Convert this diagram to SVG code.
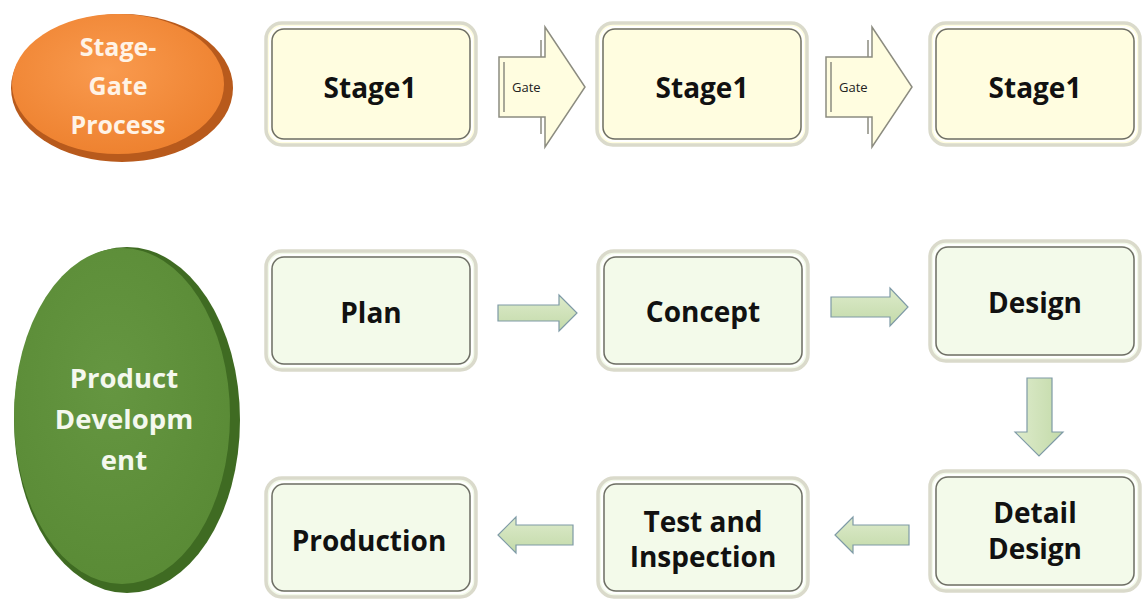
<svg xmlns="http://www.w3.org/2000/svg" width="1143" height="600" viewBox="0 0 1143 600">
<defs>
<radialGradient id="og" cx="0.45" cy="0.4" r="0.6"><stop offset="0" stop-color="#F99A4E"/><stop offset="1" stop-color="#EE8230"/></radialGradient>
<radialGradient id="gg" cx="0.45" cy="0.4" r="0.6"><stop offset="0" stop-color="#659641"/><stop offset="1" stop-color="#5A8B36"/></radialGradient>
<linearGradient id="ag" x1="0" y1="0" x2="0" y2="1"><stop offset="0" stop-color="#DDEBCB"/><stop offset="1" stop-color="#C3DAA9"/></linearGradient>
<linearGradient id="agv" x1="0" y1="0" x2="1" y2="0"><stop offset="0" stop-color="#DDEBCB"/><stop offset="1" stop-color="#C3DAA9"/></linearGradient>
</defs>
<style>
.bo{stroke:#DADACB;stroke-width:3.5}
.bi{fill:none;stroke:#6E6E66;stroke-width:1.5}
.bw{fill:none;stroke:#FFFFFF;stroke-width:2}
.sf{fill:#FFFDE0}
.pf{fill:#F3FAEA}
.t{font-family:"Open Sans","Noto Sans","DejaVu Sans",sans-serif;font-weight:bold;fill:#111;text-anchor:middle;font-size:28px}
.et{font-family:"Open Sans","Noto Sans","DejaVu Sans",sans-serif;font-weight:bold;fill:#FFF3E6;text-anchor:middle;font-size:25px}
.eg{font-size:27.5px;fill:#F4F8EE}
.gt{font-family:"Open Sans","Noto Sans","DejaVu Sans",sans-serif;fill:#222;font-size:13px}
.ga{fill:#FFFDE0;stroke:#8C8C80;stroke-width:1.5}
.ar{stroke:#7E9AA6;stroke-width:1.2}
</style>
<g id="stage-gate-ellipse">
<ellipse cx="122" cy="88" rx="111" ry="74" fill="#B85A1C"/>
<ellipse cx="118" cy="84" rx="106" ry="70" fill="url(#og)"/>
<text class="et" x="118" y="56">Stage-</text>
<text class="et" x="118" y="95">Gate</text>
<text class="et" x="118" y="134">Process</text>
</g>
<g id="product-dev-ellipse">
<ellipse cx="127" cy="420" rx="113" ry="173" fill="#3F6B22"/>
<ellipse cx="122" cy="416" rx="108" ry="168" fill="url(#gg)"/>
<text class="et eg" x="124" y="388">Product</text>
<text class="et eg" x="124" y="429">Developm</text>
<text class="et eg" x="124" y="470">ent</text>
</g>
<g id="stage1a">
<rect class="bo sf" x="266" y="23" width="210" height="122" rx="16"/>
<rect class="bw" x="270" y="27" width="202" height="114" rx="13"/>
<rect class="bi" x="272" y="29" width="198" height="110" rx="12"/>
<text class="t" x="370" y="98" font-size="29.5">Stage1</text>
</g>
<g id="stage1b">
<rect class="bo sf" x="597" y="23" width="210" height="122" rx="16"/>
<rect class="bw" x="601" y="27" width="202" height="114" rx="13"/>
<rect class="bi" x="603" y="29" width="198" height="110" rx="12"/>
<text class="t" x="702" y="98" font-size="29.5">Stage1</text>
</g>
<g id="stage1c">
<rect class="bo sf" x="930" y="23" width="210" height="122" rx="16"/>
<rect class="bw" x="934" y="27" width="202" height="114" rx="13"/>
<rect class="bi" x="936" y="29" width="198" height="110" rx="12"/>
<text class="t" x="1035" y="98" font-size="29.5">Stage1</text>
</g>
<g id="plan">
<rect class="bo pf" x="266" y="251" width="210" height="119" rx="16"/>
<rect class="bw" x="270" y="255" width="202" height="111" rx="13"/>
<rect class="bi" x="272" y="257" width="198" height="107" rx="12"/>
<text class="t" x="371" y="323">Plan</text>
</g>
<g id="concept">
<rect class="bo pf" x="598" y="251" width="210" height="119" rx="16"/>
<rect class="bw" x="602" y="255" width="202" height="111" rx="13"/>
<rect class="bi" x="604" y="257" width="198" height="107" rx="12"/>
<text class="t" x="703" y="322">Concept</text>
</g>
<g id="design">
<rect class="bo pf" x="930" y="241" width="210" height="120" rx="16"/>
<rect class="bw" x="934" y="245" width="202" height="112" rx="13"/>
<rect class="bi" x="936" y="247" width="198" height="108" rx="12"/>
<text class="t" x="1035" y="313">Design</text>
</g>
<g id="detail-design">
<rect class="bo pf" x="930" y="471" width="210" height="120" rx="16"/>
<rect class="bw" x="934" y="475" width="202" height="112" rx="13"/>
<rect class="bi" x="936" y="477" width="198" height="108" rx="12"/>
<text class="t" x="1035" y="523">Detail</text>
<text class="t" x="1035" y="559">Design</text>
</g>
<g id="test-inspection">
<rect class="bo pf" x="598" y="478" width="210" height="119" rx="16"/>
<rect class="bw" x="602" y="482" width="202" height="111" rx="13"/>
<rect class="bi" x="604" y="484" width="198" height="107" rx="12"/>
<text class="t" x="703" y="532">Test and</text>
<text class="t" x="703" y="567">Inspection</text>
</g>
<g id="production">
<rect class="bo pf" x="266" y="478" width="210" height="119" rx="16"/>
<rect class="bw" x="270" y="482" width="202" height="111" rx="13"/>
<rect class="bi" x="272" y="484" width="198" height="107" rx="12"/>
<text class="t" x="369" y="551">Production</text>
</g>
<g id="connectors">
<g id="gate1">
<path class="ga" d="M499,57 H545 V27 L585,87 L545,147 V117 H499 Z"/>
<path d="M504,62 V112 M541,57 V40 M541,117 V134" fill="none" stroke="#8C8C80" stroke-width="1.5"/>
<text class="gt" x="512" y="92">Gate</text>
</g>
<g id="gate2">
<path class="ga" d="M826,57 H872 V27 L912,87 L872,147 V117 H826 Z"/>
<path d="M831,62 V112 M868,57 V40 M868,117 V134" fill="none" stroke="#8C8C80" stroke-width="1.5"/>
<text class="gt" x="839" y="92">Gate</text>
</g>
<path class="ar" fill="url(#ag)" d="M498,305 H559 V295 L577,313 L559,331 V321 H498 Z"/>
<path class="ar" fill="url(#ag)" d="M831,297 H890 V288 L908,307 L890,326 V317 H831 Z"/>
<path class="ar" fill="url(#agv)" d="M1027,378 H1052 V432 H1063 L1039,456 L1015,432 H1027 Z"/>
<path class="ar" fill="url(#ag)" d="M909,525 H853 V517 L835,535 L853,553 V545 H909 Z"/>
<path class="ar" fill="url(#ag)" d="M573,525 H516 V517 L498,535 L516,553 V545 H573 Z"/>
</g>
</svg>
